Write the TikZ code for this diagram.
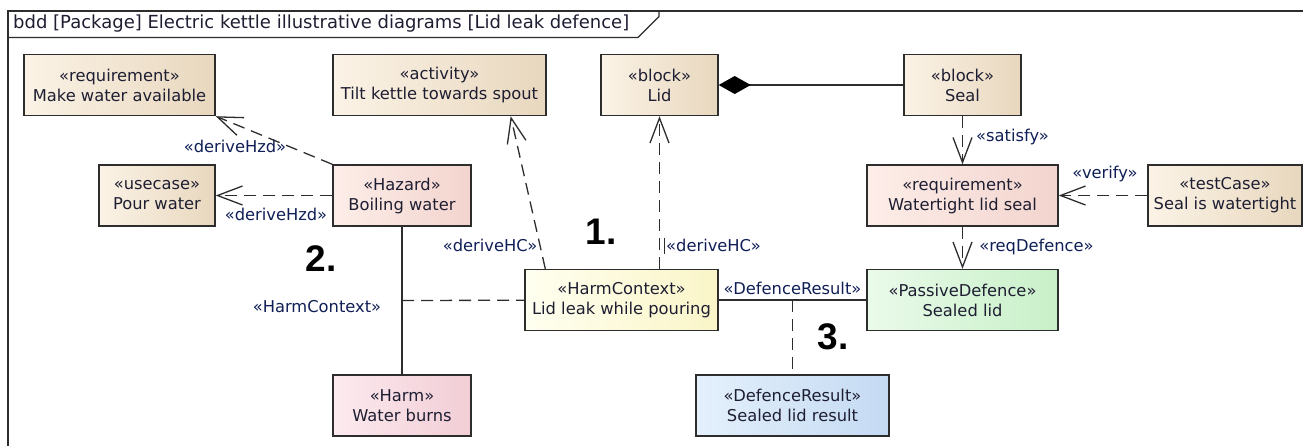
\documentclass[tikz,border=0pt]{standalone}
\usepackage{fontspec}
\setmainfont{DejaVu Sans}
\newfontfamily\numfont{Liberation Sans}
\usetikzlibrary{arrows.meta}

\definecolor{ink}{RGB}{45,45,45}
\definecolor{boxtext}{RGB}{30,30,50}
\definecolor{lbltext}{RGB}{15,30,85}
\definecolor{tanL}{RGB}{251,243,230}
\definecolor{tanR}{RGB}{232,215,190}
\definecolor{hazL}{RGB}{253,237,232}
\definecolor{hazR}{RGB}{243,212,206}
\definecolor{hrmL}{RGB}{252,234,238}
\definecolor{hrmR}{RGB}{242,205,214}
\definecolor{hcxL}{RGB}{255,255,240}
\definecolor{hcxR}{RGB}{250,245,200}
\definecolor{pdfL}{RGB}{234,250,234}
\definecolor{pdfR}{RGB}{200,240,200}
\definecolor{drsL}{RGB}{228,240,252}
\definecolor{drsR}{RGB}{196,218,242}

\begin{document}
\begin{tikzpicture}[x=1pt, y=-1pt,
    blk/.style={draw=ink, line width=1.4pt, left color=#1L, right color=#1R,
        minimum height=61pt, align=center, inner sep=0pt, text=boxtext,
        font=\fontsize{16.3}{20}\selectfont},
    lbl/.style={text=lbltext, inner sep=1pt, font=\fontsize{16.3}{20}\selectfont},
    dep/.style={draw=ink, line width=1.3pt, dash pattern=on 12pt off 7pt,
        -{Straight Barb[length=25pt,width=19pt]}},
    assoc/.style={draw=ink, line width=1.3pt},
    trace/.style={draw=ink, line width=1.3pt, dash pattern=on 12pt off 7pt},
    num/.style={font=\numfont\bfseries\fontsize{37}{37}\selectfont, inner sep=0pt}]

   \useasboundingbox (0,0) rectangle (1303,445);
   \clip (0,0) rectangle (1303,445);

   \draw[ink, line width=1.3pt] (8,11) rectangle (1330,470);
   \draw[ink, line width=1.3pt] (8,37.5) -- (638,37.5) -- (659,16.5) -- (659,11);
   \node[anchor=west, inner sep=0pt, text=boxtext, font=\fontsize{18}{20}\selectfont]
      (title) at (13,24) {bdd [Package] Electric kettle illustrative diagrams [Lid leak defence]};

   \foreach \n/\x/\y/\w/\col/\st/\txt in {
      mwa/119.5/85/191/tan/requirement/Make water available,
      tilt/439.5/85/213/tan/activity/Tilt kettle towards spout,
      lid/659.5/85/117/tan/block/Lid,
      seal/962.5/85/117/tan/block/Seal,
      pour/157/195.5/116/tan/usecase/Pour water,
      haz/402/195.5/138/haz/Hazard/Boiling water,
      wls/962.5/195.5/191/haz/requirement/Watertight lid seal,
      tc/1225/195.5/154/tan/testCase/Seal is watertight,
      hc/621.5/300/193/hcx/HarmContext/Lid leak while pouring,
      pd/962.5/300/191/pdf/PassiveDefence/Sealed lid,
      harm/402/405.5/138/hrm/Harm/Water burns,
      dr/792.5/405.5/193/drs/DefenceResult/Sealed lid result}
     \node[blk=\col, minimum width=\w pt] (\n) at (\x,\y) {«\st»\\\txt};

   \draw (haz.north west) edge[dep] node[lbl, xshift=-39pt, yshift=-6.5pt] {«deriveHzd»} (mwa.south east)
         (haz) edge[dep] node[lbl, xshift=2pt, yshift=-18.5pt] {«deriveHzd»} (pour)
         ([xshift=21pt]hc.north west) edge[dep] node[lbl, pos=0.15, xshift=-50pt] {«deriveHC»} ([xshift=-36pt]tilt.south east)
         (hc.north -| lid.south) edge[dep] node[lbl, pos=0.15, xshift=54pt] (lhc) {«deriveHC»} (lid.south)
         (seal) edge[dep] node[lbl, xshift=50pt, yshift=3.5pt] {«satisfy»} (wls)
         (tc) edge[dep] node[lbl, xshift=2pt, yshift=22pt] {«verify»} (wls)
         (wls) edge[dep] node[lbl, xshift=74pt, yshift=1pt] {«reqDefence»} (pd);
   \draw[ink, line width=0.8pt] (lhc.north west) -- (lhc.south west);

   \draw[assoc, {Diamond[length=32pt,width=18pt,color=black]}-] (lid) -- (seal);

   \draw[assoc] (haz) -- coordinate[midway] (hzm) (harm);
   \draw[trace] (hzm) -- node[lbl, pos=0, xshift=-85pt, yshift=-6pt] {«HarmContext»} (hc);
   \draw[assoc] (hc) -- node[lbl, yshift=12pt] {«DefenceResult»} coordinate[midway] (drm) (pd);
   \draw[trace] (drm) -- (dr);

   \node[num] (n1) at (601,232) {1.};
   \node[num] (n2) at (321,259) {2.};
   \node[num] (n3) at (833,337) {3.};

\end{tikzpicture}
\end{document}
